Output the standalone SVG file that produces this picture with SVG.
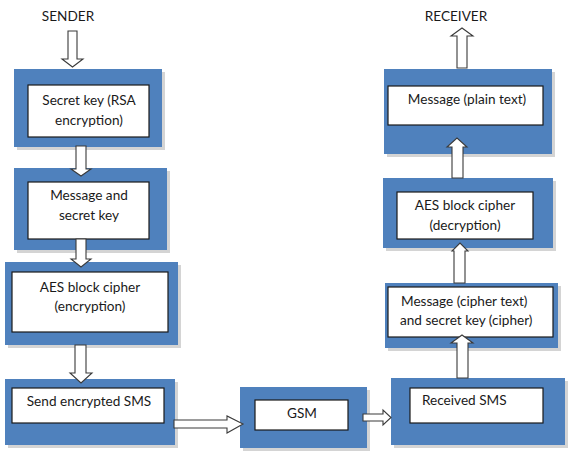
<svg xmlns="http://www.w3.org/2000/svg" width="575" height="457" viewBox="0 0 575 457">
<style>
.sh{fill:#d4d4d4}
.bl{fill:#4f81bd}
.in{fill:#fff;stroke:#1a1a1a;stroke-width:1.2}
.ar{fill:#fff;stroke:#3a3a3a;stroke-width:1.1;stroke-linejoin:miter}
text{font-family:Lato,"Open Sans","Liberation Sans",sans-serif;font-size:13.6px;fill:#1a1a1a}
.c{text-anchor:middle}
</style>
<rect width="575" height="457" fill="#fff"/>
<text class="c" x="68" y="21">SENDER</text>
<text class="c" x="456" y="21">RECEIVER</text>
<g id="n1"><rect class="sh" x="17" y="72" width="148" height="78"/><rect class="bl" x="14" y="69" width="148" height="78"/><rect class="in" x="28" y="85" width="121" height="52"/><text class="c" x="89" y="105">Secret key (RSA</text><text class="c" x="89" y="125">encryption)</text></g>
<g id="n2"><rect class="sh" x="17" y="171" width="153" height="82"/><rect class="bl" x="14" y="168" width="153" height="82"/><rect class="in" x="28" y="182" width="121" height="57"/><text class="c" x="89" y="200">Message and</text><text class="c" x="89" y="220">secret key</text></g>
<g id="n3"><rect class="sh" x="8" y="265" width="173" height="83"/><rect class="bl" x="5" y="262" width="173" height="83"/><rect class="in" x="12" y="272" width="156" height="60"/><text class="c" x="90" y="292">AES block cipher</text><text class="c" x="90" y="311">(encryption)</text></g>
<g id="n4"><rect class="sh" x="8" y="382" width="170" height="66"/><rect class="bl" x="5" y="379" width="170" height="66"/><rect class="in" x="12" y="388" width="152" height="35"/><text class="c" x="89" y="406">Send encrypted SMS</text></g>
<g id="n5"><rect class="sh" x="243" y="390" width="127" height="61"/><rect class="bl" x="240" y="387" width="127" height="61"/><rect class="in" x="255" y="400" width="93" height="30"/><text class="c" x="302" y="418">GSM</text></g>
<g id="n6"><rect class="sh" x="394" y="381" width="174" height="67"/><rect class="bl" x="391" y="378" width="174" height="67"/><rect class="in" x="410" y="388" width="133" height="35"/><text x="422" y="405">Received SMS</text></g>
<g id="n7"><rect class="sh" x="388" y="286" width="173" height="65"/><rect class="bl" x="385" y="283" width="173" height="65"/><rect class="in" x="388" y="287" width="165" height="50"/><text x="401" y="306">Message (cipher text)</text><text x="400" y="325">and secret key (cipher)</text></g>
<g id="n8"><rect class="sh" x="386" y="181" width="170" height="70"/><rect class="bl" x="383" y="178" width="170" height="70"/><rect class="in" x="397" y="192" width="136" height="47"/><text class="c" x="465" y="210">AES block cipher</text><text class="c" x="465" y="230">(decryption)</text></g>
<g id="n9"><rect class="sh" x="387" y="72" width="168" height="85"/><rect class="bl" x="384" y="69" width="168" height="85"/><rect class="in" x="388" y="86" width="155" height="39"/><text class="c" x="467" y="104">Message (plain text)</text></g>
<g id="connectors">
<polygon class="ar" points="68,31 77,31 77,59 83,59 72.5,67 62,59 68,59"/>
<polygon class="ar" points="76,146 86,146 86,169 91,169 81,176 71,169 76,169"/>
<polygon class="ar" points="76,239 86,239 86,259 91,259 81,267 71,259 76,259"/>
<polygon class="ar" points="75,345 86,345 86,373 92,373 81,383 70,373 75,373"/>
<polygon class="ar" points="174,420 227,420 227,416 243,424 227,433 227,428 174,428"/>
<polygon class="ar" points="363,414 383,414 383,410 391,417.5 383,425 383,421 363,421"/>
<polygon class="ar" points="457,378 457,343 451,343 462,335 473,343 468,343 468,378"/>
<polygon class="ar" points="454,283 454,251 452,251 460,243 468,251 465,251 465,283"/>
<polygon class="ar" points="452,178 452,147 447,147 457,138 467,147 463,147 463,178"/>
<polygon class="ar" points="457,68 457,36 451,36 462,28 473,36 467,36 467,68"/>
</g>
</svg>
